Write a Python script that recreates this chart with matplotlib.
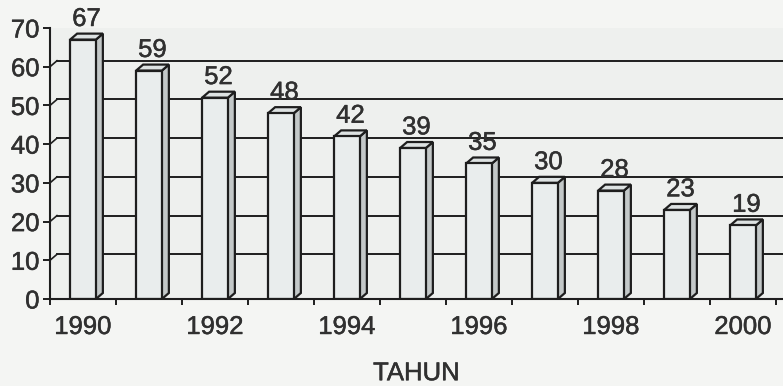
import matplotlib.pyplot as plt
import matplotlib.patheffects as pe
from matplotlib.patches import Polygon

# jumlah per tahun
tahun = [1990, 1991, 1992, 1993, 1994, 1995, 1996, 1997, 1998, 1999, 2000]
nilai = [67, 59, 52, 48, 42, 39, 35, 30, 28, 23, 19]
yticks = [0, 10, 20, 30, 40, 50, 60, 70]

plt.rcParams['font.family'] = ['Liberation Sans', 'DejaVu Sans']
teks = '#303030'
garis = '#1e1e1e'
tebal = [pe.withStroke(linewidth=0.35, foreground=teks)]

fig = plt.figure(figsize=(7.83, 3.86), dpi=100, facecolor='#f4f5f3')
ax = fig.add_axes([50 / 783, 87 / 386, 733 / 783, 271 / 386])
ax.set_facecolor('#eef0ee')

n = len(tahun)
lebar = 0.39      # lebar muka depan batang
dx, dy = 0.106, 1.55   # kedalaman semu 3D
lw = 1.6

ax.set_xlim(-0.5, -0.5 + 733 / 66)
ax.set_ylim(0, 70)

# garis grid di dinding belakang, digeser sesuai kedalaman
for v in yticks[1:-1]:
    ax.plot([-0.5 + dx, n + 2], [v + dy, v + dy], color=garis, lw=1.4, zorder=1)
    ax.plot([-0.5, -0.5 + dx], [v, v + dy], color=garis, lw=1.2, zorder=1,
            clip_on=False)

bars = ax.bar(range(n), nilai, width=lebar, color='#e9eded', edgecolor=garis,
              linewidth=lw, zorder=3)

for b, v in zip(bars, nilai):
    x0 = b.get_x()
    x1 = x0 + b.get_width()
    sisi = Polygon([(x1, 0), (x1 + dx, dy), (x1 + dx, v + dy), (x1, v)],
                   closed=True, facecolor='#c3c8c8', edgecolor=garis,
                   linewidth=lw, zorder=2.9)
    atas = Polygon([(x0, v), (x1, v), (x1 + dx, v + dy), (x0 + dx, v + dy)],
                   closed=True, facecolor='#dde2e2', edgecolor=garis,
                   linewidth=lw, zorder=2.9)
    ax.add_patch(sisi)
    ax.add_patch(atas)
    ax.annotate(str(v), (x0 + lebar / 2 + dx / 2, v + dy), xytext=(0, 5.5),
                textcoords='offset points', ha='center', va='baseline',
                fontsize=18.5, color=teks, zorder=5, annotation_clip=False,
                path_effects=tebal)

# sumbu
for s in ['top', 'right']:
    ax.spines[s].set_visible(False)
for s in ['left', 'bottom']:
    ax.spines[s].set_color(garis)
    ax.spines[s].set_linewidth(1.5)
    ax.spines[s].set_zorder(4)

ax.set_yticks(yticks)
ax.tick_params(axis='y', length=5, width=1.4, color=garis, labelsize=18.5,
               labelcolor=teks, pad=2.5)

ax.set_xticks(range(0, n, 2))
ax.set_xticklabels([str(t) for t in tahun[::2]])
ax.tick_params(axis='x', length=0, labelsize=18.5, labelcolor=teks, pad=11.5)
ax.set_xticks([i - 0.5 for i in range(n + 1)], minor=True)
ax.tick_params(axis='x', which='minor', length=4, width=1.4, color=garis)

for lbl in ax.get_xticklabels() + ax.get_yticklabels():
    lbl.set_path_effects(tebal)

ax.set_xlabel('TAHUN', fontsize=18.5, color=teks, labelpad=16,
              path_effects=tebal)

fig.savefig('out.png', dpi=100, facecolor=fig.get_facecolor())
